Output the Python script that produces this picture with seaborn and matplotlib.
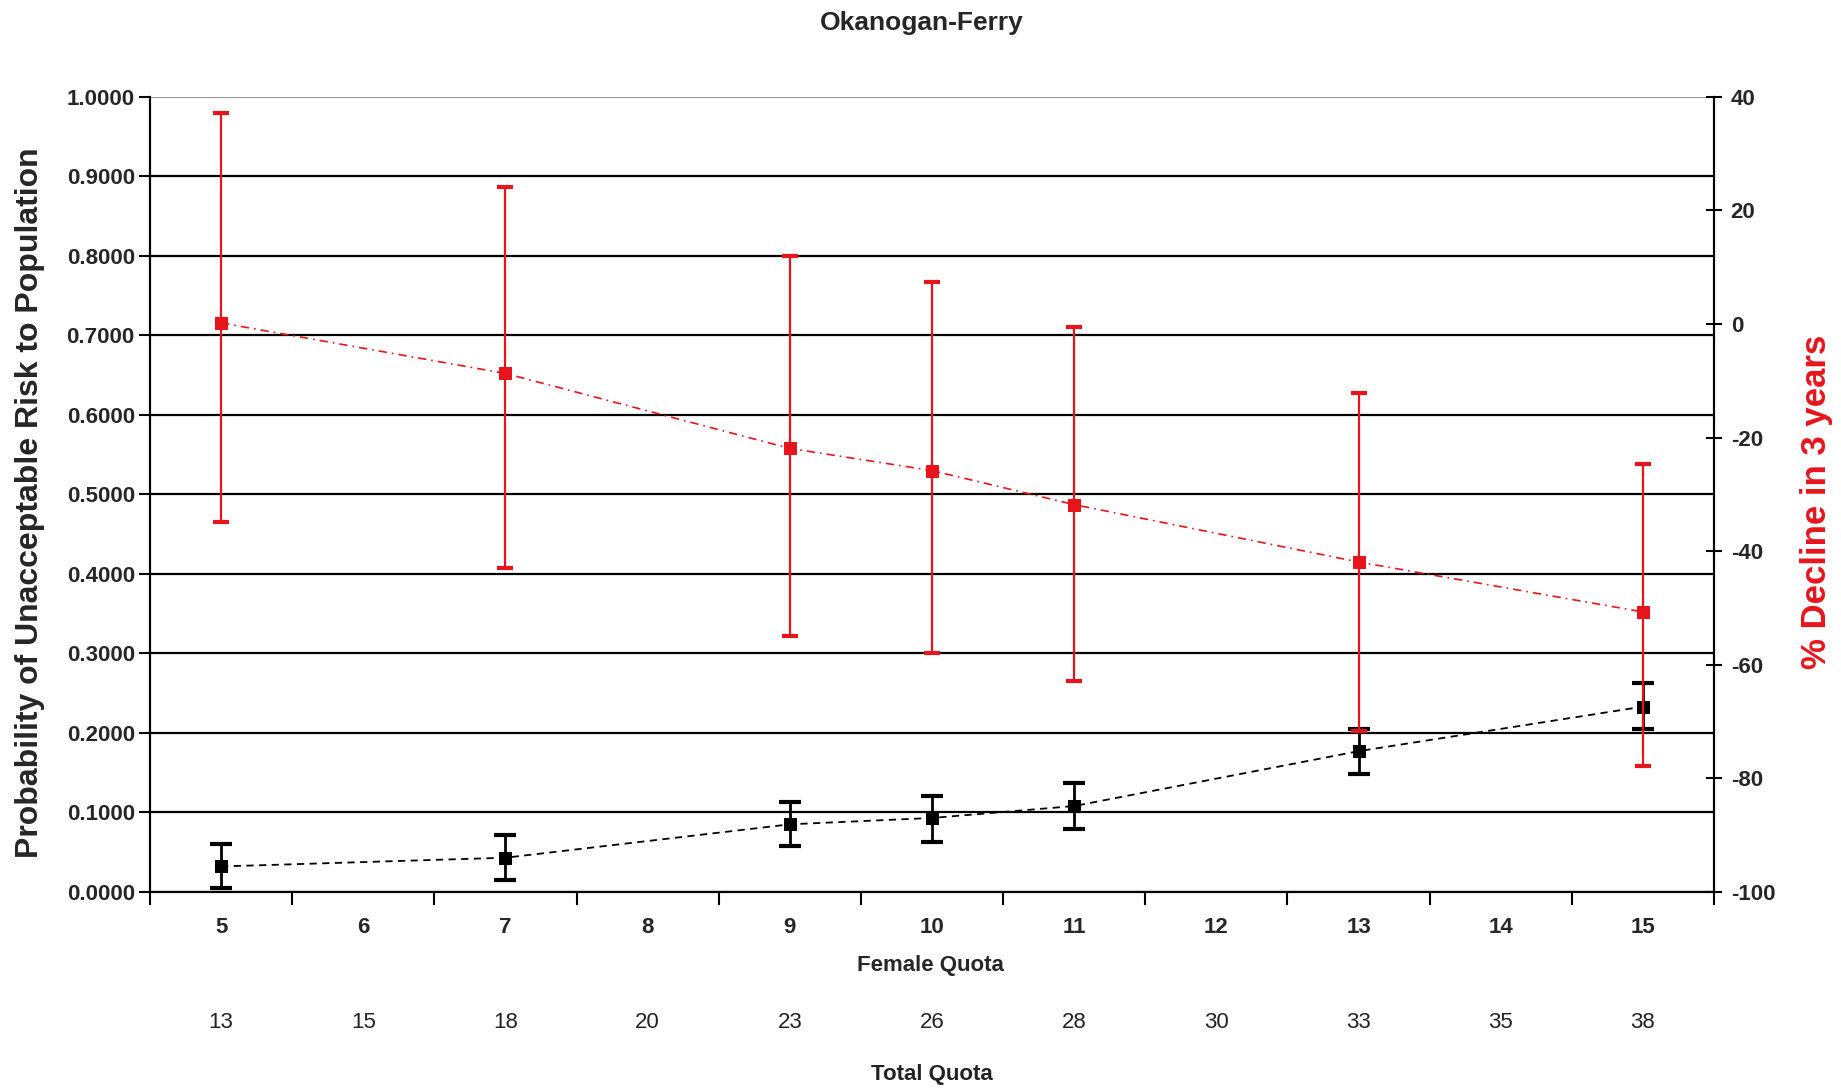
import numpy as np
import pandas as pd
import matplotlib
matplotlib.use("Agg")
import matplotlib.pyplot as plt
import seaborn as sns

# Category axis (Excel style): female quota with matching total quota
female_quota = [5, 6, 7, 8, 9, 10, 11, 12, 13, 14, 15]
total_quota = [13, 15, 18, 20, 23, 26, 28, 30, 33, 35, 38]

# Probability of unacceptable risk (left axis)
risk_x = [5, 7, 9, 10, 11, 13, 15]
risk = [0.032, 0.043, 0.085, 0.093, 0.108, 0.177, 0.233]
risk_lo = [0.005, 0.015, 0.058, 0.063, 0.079, 0.148, 0.205]
risk_hi = [0.060, 0.072, 0.113, 0.121, 0.137, 0.205, 0.263]

# % decline in 3 years (right axis)
decl_x = [5, 7, 9, 10, 11, 13, 15]
decline = [0.2, -8.7, -21.9, -25.8, -31.8, -41.9, -50.7]
decl_lo = [-34.9, -42.9, -54.9, -58.0, -62.9, -71.6, -77.9]
decl_hi = [37.2, 24.2, 12.0, 7.4, -0.6, -12.1, -24.7]

left_ticks = np.round(np.arange(0, 1.01, 0.1), 1)
right_ticks = [-100, -80, -60, -40, -20, 0, 20, 40]

sns.set_style("white")
plt.rcParams["font.family"] = ["Liberation Sans", "DejaVu Sans"]

fig = plt.figure(figsize=(18.41, 10.89), dpi=100)
ax = fig.add_axes([0.0815, 0.181, 0.8495, 0.730])
ax2 = ax.twinx()

df_risk = pd.DataFrame({"x": risk_x, "y": risk})
df_decl = pd.DataFrame({"x": decl_x, "y": decline})

# black series
ax.errorbar(risk_x, risk,
            yerr=[np.array(risk) - np.array(risk_lo), np.array(risk_hi) - np.array(risk)],
            fmt="none", ecolor="black", elinewidth=2, capsize=8, capthick=3, zorder=3)
sns.lineplot(data=df_risk, x="x", y="y", ax=ax, color="black", linewidth=1.3,
             linestyle=(0, (4, 3)), marker="s", markersize=8, markeredgecolor="black",
             zorder=4)

# red series
ax2.errorbar(decl_x, decline,
             yerr=[np.array(decline) - np.array(decl_lo), np.array(decl_hi) - np.array(decline)],
             fmt="none", ecolor="#e8141b", elinewidth=1.6, capsize=6, capthick=3, zorder=3)
sns.lineplot(data=df_decl, x="x", y="y", ax=ax2, color="#e8141b", linewidth=1.2,
             linestyle=(0, (5, 3, 1, 3)), marker="s", markersize=8,
             markeredgecolor="#e8141b", zorder=4)

# left axis
ax.set_ylim(0, 1)
ax.set_yticks(left_ticks)
ax.set_yticklabels([f"{t:.4f}" for t in left_ticks], fontweight="bold", fontsize=16)
for t in left_ticks:
    ax.axhline(t, color="#999999" if t == 1.0 else "black", linewidth=1.6, zorder=1)
ax.tick_params(axis="y", direction="out", length=8, width=1.5, pad=3, color="black", left=True)
ax.set_ylabel("Probability of Unacceptable Risk to Population", fontsize=23, fontweight="bold")
ax.yaxis.set_label_coords(-0.067, 0.49)

# x axis: categories with ticks at the boundaries
ax.set_xlim(4.5, 15.5)
ax.set_xticks(np.arange(4.5, 15.6, 1.0))
ax.set_xticklabels([])
ax.set_xticks(female_quota, minor=True)
ax.set_xticklabels([str(v) for v in female_quota], minor=True, fontweight="bold", fontsize=16)
ax.tick_params(axis="x", which="major", direction="out", length=9, width=1.5, color="black", bottom=True)
ax.tick_params(axis="x", which="minor", length=0, pad=18)
ax.set_xlabel("Female Quota", fontsize=16, fontweight="bold")
ax.xaxis.set_label_coords(0.499, -0.079)

sec = ax.secondary_xaxis(-0.148)
sec.set_xticks(female_quota)
sec.set_xticklabels([str(v) for v in total_quota], fontsize=16, color="#222222")
sec.tick_params(length=0, pad=2)
sec.spines["bottom"].set_visible(False)
sec.set_xlabel("Total Quota", fontsize=16, fontweight="bold", color="#222222", labelpad=22)

# right axis
ax2.set_ylim(-100, 40)
ax2.set_yticks(right_ticks)
ax2.set_yticklabels([str(t) for t in right_ticks], fontweight="bold", fontsize=16)
ax2.tick_params(axis="y", direction="inout", length=12, width=1.5, pad=6, color="black", right=True)
ax2.set_ylabel("% Decline in 3 years", fontsize=25, fontweight="bold", color="#e8141b")
ax2.yaxis.set_label_coords(1.055, 0.49)

for a in (ax, ax2):
    a.set_facecolor("none")
    a.spines["top"].set_visible(False)
    for s in ("left", "right", "bottom"):
        a.spines[s].set_color("black")
        a.spines[s].set_linewidth(1.5)
ax.set_facecolor("white")
ax.grid(False)
ax2.grid(False)

fig.text(922 / 1841, 1 - 23 / 1089, "Okanogan-Ferry", ha="center", va="center",
         fontsize=19, fontweight="bold")

fig.savefig("out.png", dpi=100)
